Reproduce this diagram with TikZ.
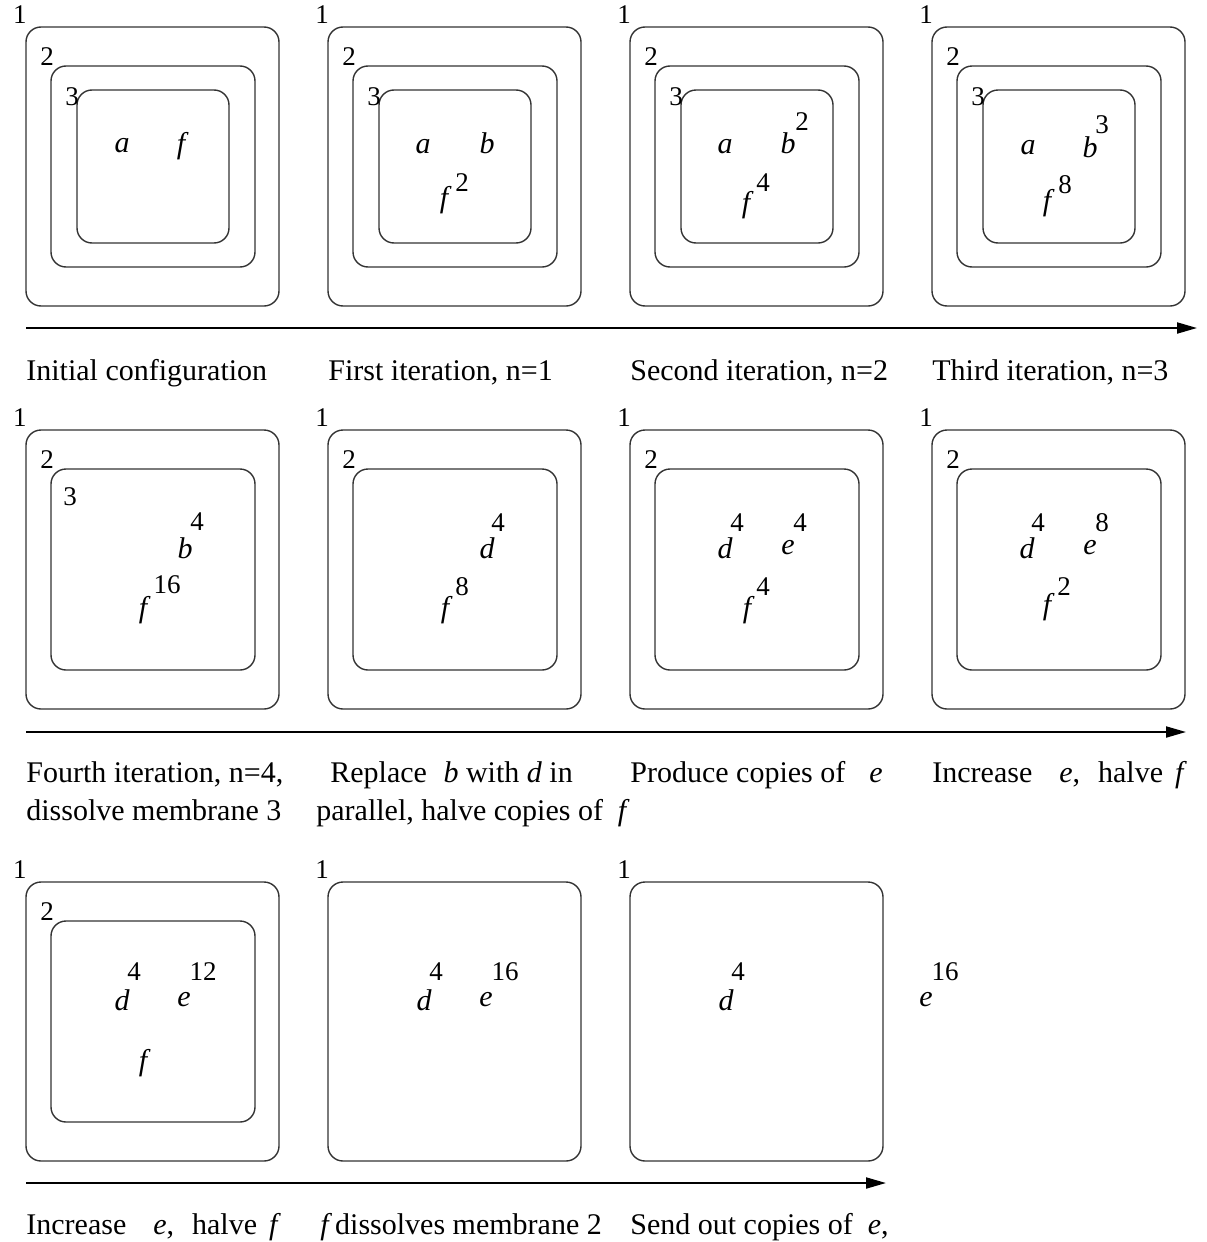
\documentclass[tikz,border=0pt]{standalone}
\usepackage{fontspec}
\setmainfont{Liberation Serif}
\usetikzlibrary{arrows.meta}

\tikzset{
  membrane/.style={draw=black!80, line width=0.7pt, rounded corners=7.5pt},
  lab/.style={inner sep=0pt, font=\fontsize{13.5}{15}\selectfont},
  obj/.style={inner sep=0pt, font=\fontsize{15}{18}\selectfont\itshape},
  cnt/.style={inner sep=0pt, font=\fontsize{13.5}{15}\selectfont},
  captext/.style={anchor=base west, inner sep=0pt, font=\fontsize{15}{18}\selectfont},
  timeline/.style={line width=1pt, -{Triangle[length=10pt,width=5.5pt]}},
  % skin membrane with its label
  skin/.pic={
    \draw[membrane] (0,0) rectangle (253,279);
    \node[lab] (-one) at (-6,-12) {1};
  },
  % membrane 2 with its label
  middle/.pic={
    \draw[membrane] (25,39) rectangle (229,240);
    \node[lab] (-two) at (21,30) {2};
  },
  % membrane 3 with its label
  inner/.pic={
    \draw[membrane] (51,63) rectangle (203,216);
    \node[lab] (-three) at (46,70) {3};
  },
}

\begin{document}
\begin{tikzpicture}[x=0.5pt,y=-0.5pt]
\useasboundingbox (0,0) rectangle (1206,1242);

% ---------- row 1: iterations ----------
\foreach \c/\n in {26/a,328/b,630/c,932/d}{
  \pic (s1\n) at (\c,27) {skin};
  \pic (m1\n) at (\c,27) {middle};
  \pic (i1\n) at (\c,27) {inner};
}
\node[obj] (r1a1) at (122,146) {a};
\node[obj] (r1f1) at (181,146) {f};

\node[obj] (r1a2) at (423,147) {a};
\node[obj] (r1b2) at (487,143) {b};
\node[obj] (r1f2) at (444,200) {f};
\node[cnt] (r1f2n) at (462,183) {2};

\node[obj] (r1a3) at (725,147) {a};
\node[obj] (r1b3) at (788,143) {b};
\node[cnt] (r1b3n) at (802,122) {2};
\node[obj] (r1f3) at (746,205) {f};
\node[cnt] (r1f3n) at (763,183) {4};

\node[obj] (r1a4) at (1028,148) {a};
\node[obj] (r1b4) at (1090,147) {b};
\node[cnt] (r1b4n) at (1102,125) {3};
\node[obj] (r1f4) at (1047,203) {f};
\node[cnt] (r1f4n) at (1065,185) {8};

\coordinate (t1s) at (26,328);
\coordinate (t1e) at (1197,328);
\draw[timeline] (t1s) -- (t1e);

\node[captext] (c1a) at (26,380) {Initial configuration};
\node[captext] (c1b) at (328,380) {First iteration, n=1};
\node[captext] (c1c) at (630,380) {Second iteration, n=2};
\node[captext] (c1d) at (932,380) {Third iteration, n=3};

% ---------- row 2: dissolving membrane 3 ----------
\foreach \c/\n in {26/a,328/b,630/c,932/d}{
  \pic (s2\n) at (\c,430) {skin};
  \pic (m2\n) at (\c,430) {middle};
}
\node[lab] (r2three) at (70,497) {3};
\node[obj] (r2b1) at (185,548) {b};
\node[cnt] (r2b1n) at (197,522) {4};
\node[obj] (r2f1) at (143,610) {f};
\node[cnt] (r2f1n) at (167,585) {16};

\node[obj] (r2d2) at (487,548) {d};
\node[cnt] (r2d2n) at (498,523) {4};
\node[obj] (r2f2) at (445,610) {f};
\node[cnt] (r2f2n) at (462,587) {8};

\node[obj] (r2d3) at (725,548) {d};
\node[cnt] (r2d3n) at (737,523) {4};
\node[obj] (r2e3) at (788,548) {e};
\node[cnt] (r2e3n) at (800,523) {4};
\node[obj] (r2f3) at (747,610) {f};
\node[cnt] (r2f3n) at (763,587) {4};

\node[obj] (r2d4) at (1027,548) {d};
\node[cnt] (r2d4n) at (1038,523) {4};
\node[obj] (r2e4) at (1090,548) {e};
\node[cnt] (r2e4n) at (1102,523) {8};
\node[obj] (r2f4) at (1047,607) {f};
\node[cnt] (r2f4n) at (1064,587) {2};

\coordinate (t2s) at (26,732);
\coordinate (t2e) at (1186,732);
\draw[timeline] (t2s) -- (t2e);

\node[captext] (c2a1) at (26,782) {Fourth iteration, n=4,};
\node[captext] (c2a2) at (26,820) {dissolve membrane 3};
\node[captext] (c2b1) at (330,782) {Replace\hspace{0.55em}\textit{b} with \textit{d} in};
\node[captext] (c2b2) at (316,820) {parallel, halve copies of\hspace{0.5em}\textit{f}};
\node[captext] (c2c) at (630,782) {Produce copies of\hspace{0.8em}\textit{e}};
\node[captext] (c2d) at (932,782) {Increase\hspace{0.9em}\textit{e},\hspace{0.6em}halve\hspace{0.4em}\textit{f}};

% ---------- row 3: dissolving membrane 2, sending e out ----------
\pic (s3a) at (26,882) {skin};
\pic (m3a) at (26,882) {middle};
\pic (s3b) at (328,882) {skin};
\pic (s3c) at (630,882) {skin};

\node[obj] (r3d1) at (122,1000) {d};
\node[cnt] (r3d1n) at (134,972) {4};
\node[obj] (r3e1) at (184,1000) {e};
\node[cnt] (r3e1n) at (203,972) {12};
\node[obj] (r3f1) at (143,1063) {f};

\node[obj] (r3d2) at (424,1000) {d};
\node[cnt] (r3d2n) at (436,972) {4};
\node[obj] (r3e2) at (486,1000) {e};
\node[cnt] (r3e2n) at (505,972) {16};

\node[obj] (r3d3) at (726,1000) {d};
\node[cnt] (r3d3n) at (738,972) {4};

\node[obj] (r3e4) at (926,1000) {e};
\node[cnt] (r3e4n) at (945,972) {16};

\coordinate (t3s) at (26,1183);
\coordinate (t3e) at (886,1183);
\draw[timeline] (t3s) -- (t3e);

\node[captext] (c3a) at (26,1234) {Increase\hspace{0.9em}\textit{e},\hspace{0.6em}halve\hspace{0.4em}\textit{f}};
\node[captext] (c3b) at (320,1234) {\textit{f}\hspace{0.1em}dissolves membrane 2};
\node[captext] (c3c) at (630,1234) {Send out copies of\hspace{0.5em}\textit{e},};
\end{tikzpicture}
\end{document}
